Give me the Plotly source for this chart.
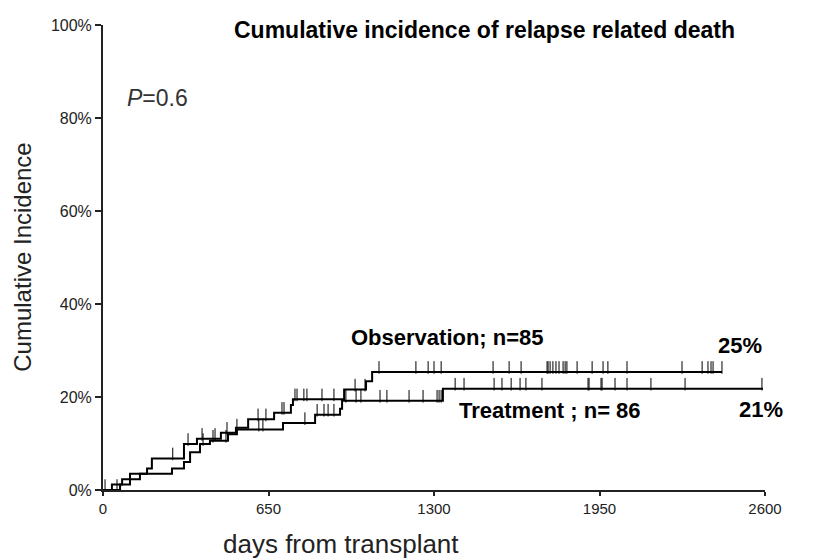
import numpy as np
import plotly.graph_objects as go

# Observation group: step event days and cumulative incidence (%)
obs_days = [0, 35, 75, 106, 173, 192, 318, 369, 463, 522, 570, 672, 738, 746, 947, 1033, 1057]
obs_ci = [0, 1.2, 2.3, 3.5, 4.6, 6.8, 9.9, 11.0, 12.3, 13.4, 15.2, 16.6, 18.3, 19.5, 21.6, 23.4, 25.4]
obs_end = 2431
obs_censor = [8, 274, 334, 389, 440, 487, 609, 640, 703, 711, 754, 762, 789, 801, 860, 907,
              990, 1029, 1084, 1229, 1277, 1300, 1328, 1532, 1595, 1642, 1744, 1748, 1756,
              1767, 1779, 1791, 1807, 1815, 1822, 1862, 1921, 1964, 1983, 2058, 2274, 2353,
              2376, 2388, 2396, 2431]

# Treatment group
trt_days = [0, 67, 106, 145, 271, 318, 342, 381, 420, 491, 526, 707, 833, 931, 939, 1335]
trt_ci = [0, 1.2, 2.3, 3.5, 4.6, 6.0, 8.1, 9.9, 10.6, 12.0, 13.0, 14.4, 16.2, 17.5, 19.2, 21.8]
trt_end = 2592
trt_censor = [55, 393, 432, 483, 526, 612, 628, 793, 841, 868, 884, 907, 954, 994, 1013,
              1088, 1115, 1202, 1257, 1312, 1320, 1328, 1383, 1418, 1536, 1567, 1603, 1638,
              1661, 1724, 1905, 1909, 1956, 1960, 2011, 2058, 2152, 2286, 2588]

x_ticks = [0, 650, 1300, 1950, 2600]
y_ticks = [0, 20, 40, 60, 80, 100]
y_ticklabels = ["0%", "20%", "40%", "60%", "80%", "100%"]

FONT = "Liberation Sans"


def level_at(days, ci, t):
    idx = np.searchsorted(np.array(days), np.array(t), side="right") - 1
    return np.array(ci)[idx]


fig = go.Figure()

for days, ci, end, cens in [(obs_days, obs_ci, obs_end, obs_censor),
                            (trt_days, trt_ci, trt_end, trt_censor)]:
    xs = list(days) + [end]
    ys = list(ci) + [ci[-1]]
    fig.add_trace(go.Scatter(x=xs, y=ys, mode="lines", line=dict(color="black", width=2, shape="hv"),
                             showlegend=False, hoverinfo="skip"))
    lv = level_at(days, ci, cens)
    fig.add_trace(go.Scatter(x=cens, y=lv + 0.95, mode="markers",
                             marker=dict(symbol="line-ns", size=9, line=dict(color="black", width=1)),
                             showlegend=False, hoverinfo="skip"))

fig.update_layout(
    width=820, height=551,
    margin=dict(l=95, r=63, t=9, b=69),
    paper_bgcolor="white", plot_bgcolor="white",
    font=dict(family=FONT, color="#222222"),
    xaxis=dict(range=[0, 2600], tickvals=x_ticks, ticks="outside", ticklen=4, tickwidth=1.5,
               tickcolor="#222", showline=True, linecolor="#222", linewidth=2, showgrid=False,
               zeroline=False, tickfont=dict(size=15, family=FONT, color="#222")),
    yaxis=dict(range=[0, 100], tickvals=y_ticks, ticktext=y_ticklabels, ticks="outside", ticklen=6,
               tickwidth=1.5, tickcolor="#222", showline=True, linecolor="#222", linewidth=2,
               showgrid=False, zeroline=False, tickfont=dict(size=16, family=FONT, color="#222")),
)

ann = [
    dict(text="<b>Cumulative incidence of relapse related death</b>", xref="paper", yref="paper",
         x=0.577, y=0.989, xanchor="center", yanchor="middle", font=dict(size=23, color="black")),
    dict(text="<i>P</i>=0.6", xref="x", yref="y", x=214, y=84.4, xanchor="center", yanchor="middle",
         font=dict(size=23, color="#333333")),
    dict(text="<b>Observation; n=85</b>", xref="x", yref="y", x=1353, y=32.9, xanchor="center",
         yanchor="middle", font=dict(size=22, color="black")),
    dict(text="<b>25%</b>", xref="x", yref="y", x=2502, y=31.1, xanchor="center", yanchor="middle",
         font=dict(size=22, color="black")),
    dict(text="<b>Treatment ; n= 86</b>", xref="x", yref="y", x=1756, y=17.2, xanchor="center",
         yanchor="middle", font=dict(size=22, color="black")),
    dict(text="<b>21%</b>", xref="x", yref="y", x=2585, y=17.3, xanchor="center", yanchor="middle",
         font=dict(size=22, color="black")),
    dict(text="days from transplant", xref="paper", yref="paper", x=0.36, y=-0.116, xanchor="center",
         yanchor="middle", font=dict(size=26, color="#222")),
    dict(text="Cumulative Incidence", xref="paper", yref="paper", x=-0.122, y=0.5, xanchor="center",
         yanchor="middle", textangle=-90, font=dict(size=24, color="#222")),
]
for a in ann:
    a["showarrow"] = False
    fig.add_annotation(**a)

fig.write_html("out.html")
